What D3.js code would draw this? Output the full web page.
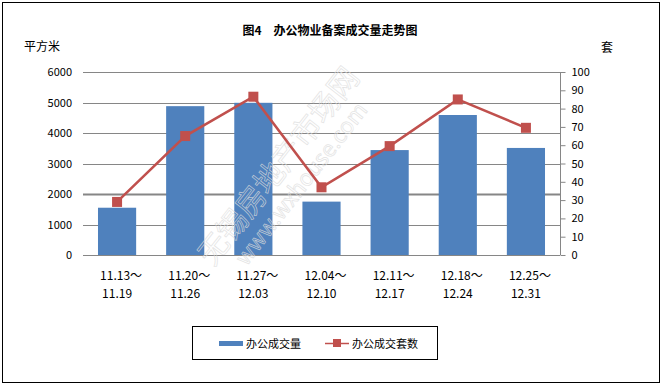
<!DOCTYPE html>
<html>
<head>
<meta charset="utf-8">
<script src="https://cdn.jsdelivr.net/npm/d3@7"></script>
<style>
  body { margin: 0; background: #fff; }
  text { font-family: "Noto Sans CJK SC", "DejaVu Sans", sans-serif; }
</style>
</head>
<body>
<svg width="662" height="385"></svg>
<script>
var categories = ["11.13～|11.19", "11.20～|11.26", "11.27～|12.03", "12.04～|12.10",
                  "12.11～|12.17", "12.18～|12.24", "12.25～|12.31"];
var area = [1550, 4880, 4990, 1750, 3440, 4590, 3510];   // 办公成交量 (平方米)
var units = [29, 65, 86.5, 37, 59.5, 85, 69.5];            // 办公成交套数 (套)
var leftTicks = [0, 1000, 2000, 3000, 4000, 5000, 6000];
var rightTicks = [0, 10, 20, 30, 40, 50, 60, 70, 80, 90, 100];

var svg = d3.select("svg");
var plotLeft = 83, plotRight = 560, plotTop = 72, plotBottom = 255;

// outer border
svg.append("rect").attr("x", 2.5).attr("y", 2.5).attr("width", 657).attr("height", 380)
  .attr("fill", "none").attr("stroke", "#000").attr("stroke-width", 1);

var x = d3.scaleBand().domain(categories).range([plotLeft, plotRight]).paddingInner(0.44).paddingOuter(0.22);
var yL = d3.scaleLinear().domain([0, 6000]).range([plotBottom, plotTop]);
var yR = d3.scaleLinear().domain([0, 100]).range([plotBottom, plotTop]);

// gridlines
svg.append("g").selectAll("line").data(leftTicks).enter().append("line")
  .attr("x1", plotLeft).attr("x2", plotRight)
  .attr("y1", function(d) { return Math.round(yL(d)) + 0.5; })
  .attr("y2", function(d) { return Math.round(yL(d)) + 0.5; })
  .attr("stroke", "#868686")
  .attr("stroke-width", function(d) { return d == 2000 ? 2 : 1; });

// left tick labels
svg.append("g").selectAll("text").data(leftTicks).enter().append("text")
  .attr("x", 72).attr("y", function(d) { return yL(d) + 4; })
  .attr("text-anchor", "end").attr("font-size", 11).attr("fill", "#000")
  .text(function(d) { return d; });

// right axis
var rAxis = svg.append("g").attr("transform", "translate(" + (plotRight + 0.5) + ",0)")
  .call(d3.axisRight(yR).tickValues(rightTicks).tickSize(5).tickPadding(6));
rAxis.select(".domain").attr("stroke", "#868686").attr("d", "M0," + plotTop + "V" + plotBottom);
rAxis.selectAll(".tick line").attr("stroke", "#868686");
rAxis.selectAll(".tick text").attr("font-size", 11).attr("fill", "#000")
  .attr("font-family", "'Noto Sans CJK SC', sans-serif");

// bars
svg.append("g").selectAll("rect").data(area).enter().append("rect")
  .attr("x", function(d, i) { return x(categories[i]); })
  .attr("width", x.bandwidth())
  .attr("y", function(d) { return yL(d); })
  .attr("height", function(d) { return plotBottom - yL(d); })
  .attr("fill", "#4f81bd");

// watermark (sits over the bars, under the line)
var wm = svg.append("g").attr("transform", "translate(290,175) rotate(-52)")
  .attr("fill", "none").attr("stroke", "#dcdcdc").attr("stroke-width", 0.7).attr("opacity", 0.8);
wm.append("text").attr("text-anchor", "middle").attr("y", -4).attr("font-size", 30)
  .text("无锡房地产市场网");
wm.append("text").attr("text-anchor", "middle").attr("y", 22).attr("font-size", 22)
  .text("www.wxhouse.com");

// line
var line = d3.line()
  .x(function(d, i) { return x(categories[i]) + x.bandwidth() / 2; })
  .y(function(d) { return yR(d); });
svg.append("path").datum(units).attr("d", line)
  .attr("fill", "none").attr("stroke", "#c0504d").attr("stroke-width", 2.5);
svg.append("g").selectAll("rect").data(units).enter().append("rect")
  .attr("x", function(d, i) { return x(categories[i]) + x.bandwidth() / 2 - 5; })
  .attr("y", function(d) { return yR(d) - 5; })
  .attr("width", 10).attr("height", 10)
  .attr("fill", "#c0504d");

// x labels
var xl = svg.append("g").selectAll("text").data(categories).enter().append("text")
  .attr("text-anchor", "middle").attr("font-size", 12).attr("fill", "#000")
  .attr("x", function(d) { return x(d) + x.bandwidth() / 2; });
xl.append("tspan").attr("y", 280)
  .attr("x", function(d) { return x(d) + x.bandwidth() / 2 + 4; })
  .text(function(d) { return d.split("|")[0]; });
xl.append("tspan").attr("y", 298)
  .attr("x", function(d) { return x(d) + x.bandwidth() / 2; })
  .text(function(d) { return d.split("|")[1]; });

// title and units
svg.append("text").attr("x", 330).attr("y", 35).attr("text-anchor", "middle")
  .attr("font-size", 12).attr("font-weight", "bold").text("图4　办公物业备案成交量走势图");
svg.append("text").attr("x", 24).attr("y", 51).attr("font-size", 12).text("平方米");
svg.append("text").attr("x", 601).attr("y", 52).attr("font-size", 12).text("套");

// legend
var lg = svg.append("g");
lg.append("rect").attr("x", 192.5).attr("y", 326.5).attr("width", 245).attr("height", 33)
  .attr("fill", "#fff").attr("stroke", "#000");
lg.append("rect").attr("x", 219).attr("y", 341).attr("width", 24).attr("height", 5).attr("fill", "#4f81bd");
lg.append("text").attr("x", 246).attr("y", 348).attr("font-size", 11).text("办公成交量");
lg.append("line").attr("x1", 325).attr("x2", 349).attr("y1", 343.5).attr("y2", 343.5)
  .attr("stroke", "#c0504d").attr("stroke-width", 1.5);
lg.append("rect").attr("x", 333).attr("y", 339).attr("width", 8).attr("height", 8).attr("fill", "#c0504d");
lg.append("text").attr("x", 352).attr("y", 348).attr("font-size", 11).text("办公成交套数");
</script>
</body>
</html>
